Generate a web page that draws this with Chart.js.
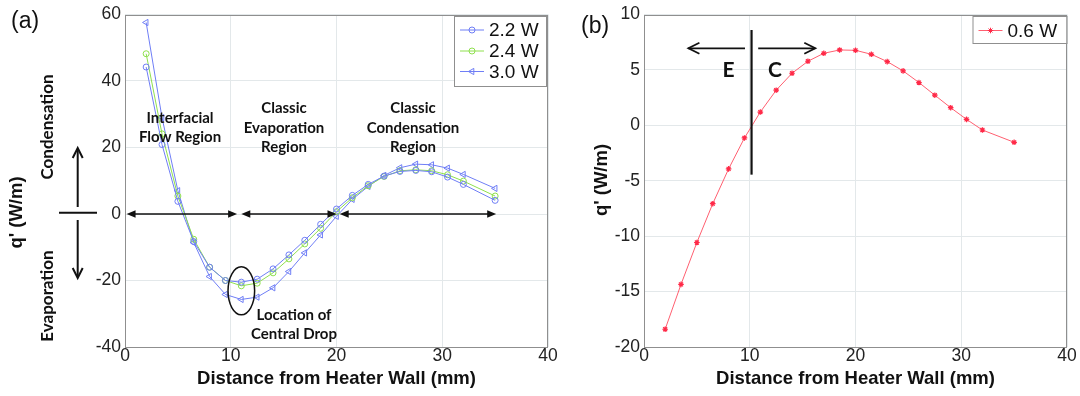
<!DOCTYPE html>
<html><head><meta charset="utf-8">
<script src="https://cdn.jsdelivr.net/npm/chart.js@4.4.1/dist/chart.umd.min.js"></script>
<style>
html,body{margin:0;padding:0;background:#fff;width:1080px;height:396px;overflow:hidden}
#wa{position:absolute;left:0;top:0;width:560px;height:396px}
#wb{position:absolute;left:560px;top:0;width:520px;height:396px}
canvas{display:block}
</style></head><body>
<div id="wa"><canvas id="ca" width="560" height="396" style="width:560px;height:396px"></canvas></div>
<div id="wb"><canvas id="cb" width="520" height="396" style="width:520px;height:396px"></canvas></div>
<script>
// ---------- data ----------
const distance = [2,3.5,5,6.5,8,9.5,11,12.5,14,15.5,17,18.5,20,21.5,23,24.5,26,27.5,29,30.5,32,35];
const q22W = [44.2,20.9,3.8,-8.3,-16.0,-20.0,-20.5,-19.6,-16.5,-12.3,-7.9,-3.1,1.5,5.6,8.9,11.4,12.8,13.1,12.7,11.1,8.9,4.1];
const q24W = [48.2,24.1,5.4,-7.6,-16.0,-20.0,-21.6,-20.8,-17.7,-13.5,-9.0,-4.3,0.7,4.9,8.5,11.3,13.0,13.3,13.0,11.8,9.9,5.4];
const q30W = [57.6,29.0,7.0,-8.6,-18.8,-24.2,-25.7,-25.0,-22.2,-17.3,-11.7,-6.3,-0.7,4.4,8.3,11.6,13.9,15.0,14.8,13.8,11.9,7.7];
const q06W = [-18.4,-14.35,-10.57,-7.07,-3.93,-1.14,1.2,3.17,4.7,5.78,6.5,6.8,6.77,6.41,5.75,4.91,3.86,2.72,1.59,0.54,-0.42,-1.53];
const xTicks = [0,10,20,30,40];
const yTicksA = [-40,-20,0,20,40,60];
const yTicksB = [-20,-15,-10,-5,0,5,10];
const labelsA = ['2.2 W','2.4 W','3.0 W'];
const labelsB = ['0.6 W'];
const xTitle = 'Distance from Heater Wall (mm)';
const yTitle = "q' (W/m)";

// ---------- styles ----------
const BLUE = '#6f7ef6', GREEN = '#8fe04e', RED = '#ff5f70', REDM = '#ff2a48';
const NUM = 'Liberation Sans, Arial, sans-serif';
const CAL = 'Lato, Open Sans, sans-serif';
const GRID = '#e3e8ea';

function pts(ys){ return distance.map((x,i)=>({x:x,y:ys[i]})); }

function scalesFor(ymin,ymax,yt,yWidth){
  const tickFont = {family:NUM,size:17.5};
  return {
    x:{type:'linear',min:0,max:40,
       afterBuildTicks:s=>{s.ticks=xTicks.map(v=>({value:v}));},
       ticks:{padding:-1,color:'#222',font:tickFont,maxRotation:0,autoSkip:false},
       grid:{color:GRID,drawTicks:false,lineWidth:1},border:{display:false},
       afterFit:s=>{s.height=49;}},
    y:{type:'linear',min:ymin,max:ymax,
       afterBuildTicks:s=>{s.ticks=yt.map(v=>({value:v}));},
       ticks:{padding:4,color:'#222',font:tickFont,autoSkip:false},
       grid:{color:GRID,drawTicks:false,lineWidth:1},border:{display:false},
       afterFit:s=>{s.width=yWidth;}}
  };
}

function arrowHeadFilled(ctx,x,y,ang,len,hw){
  ctx.beginPath();
  ctx.moveTo(x,y);
  ctx.lineTo(x-len*Math.cos(ang)+hw*Math.sin(ang), y-len*Math.sin(ang)-hw*Math.cos(ang));
  ctx.lineTo(x-len*Math.cos(ang)-hw*Math.sin(ang), y-len*Math.sin(ang)+hw*Math.cos(ang));
  ctx.closePath(); ctx.fill();
}
function arrowHeadOpen(ctx,x,y,ang,len,hw){
  ctx.beginPath();
  ctx.moveTo(x-len*Math.cos(ang)+hw*Math.sin(ang), y-len*Math.sin(ang)-hw*Math.cos(ang));
  ctx.lineTo(x,y);
  ctx.lineTo(x-len*Math.cos(ang)-hw*Math.sin(ang), y-len*Math.sin(ang)+hw*Math.cos(ang));
  ctx.stroke();
}
function line(ctx,x1,y1,x2,y2){ctx.beginPath();ctx.moveTo(x1,y1);ctx.lineTo(x2,y2);ctx.stroke();}
function rotText(ctx,t,x,y,font){
  ctx.save();ctx.translate(x,y);ctx.rotate(-Math.PI/2);ctx.font=font;
  ctx.textAlign='center';ctx.textBaseline='middle';ctx.fillText(t,0,0);ctx.restore();
}
function drawBox(chart){
  const a=chart.chartArea, ctx=chart.ctx;
  ctx.save();ctx.strokeStyle='#8f8f8f';ctx.lineWidth=1;
  ctx.strokeRect(Math.round(a.left)+0.5,Math.round(a.top)+0.5,Math.round(a.right-a.left)-1,Math.round(a.bottom-a.top)-1);
  ctx.restore();
}
function drawLegend(chart,bx,by,bw,bh,rows){
  const ctx=chart.ctx;
  ctx.save();
  ctx.fillStyle='#fff';ctx.fillRect(bx,by,bw,bh);
  ctx.strokeStyle='#8f8f8f';ctx.lineWidth=1;ctx.strokeRect(bx+0.5,by+0.5,bw,bh);
  chart.data.datasets.forEach((ds,i)=>{
    const y=rows[i];
    ctx.strokeStyle=ds.borderColor;ctx.lineWidth=1;
    line(ctx,bx+6,y,bx+30,y);
    ctx.strokeStyle=ds.pointBorderColor;ctx.fillStyle=ds.pointBackgroundColor;
    Chart.helpers.drawPoint(ctx,{pointStyle:ds.pointStyle,rotation:ds.pointRotation||0,radius:ds.pointRadius,borderWidth:ds.pointBorderWidth||1},bx+18,y);
    ctx.fillStyle='#111';ctx.font='19px '+NUM;ctx.textAlign='left';ctx.textBaseline='middle';
    ctx.fillText(ds.label,bx+35,y+1);
  });
  ctx.restore();
}

// ---------- panel (a) ----------
const annotA = {
  id:'annotA',
  afterDraw(chart){
    const ctx=chart.ctx, xs=chart.scales.x, ys=chart.scales.y;
    const X=v=>xs.getPixelForValue(v), Y=v=>ys.getPixelForValue(v);
    drawBox(chart);
    ctx.save();
    ctx.fillStyle='#111';ctx.strokeStyle='#111';
    // region arrows along zero
    ctx.lineWidth=1.6;
    [[0.15,10.6],[11.0,20.0],[20.3,35.1]].forEach(([a,b])=>{
      const y=Y(0);
      line(ctx,X(a)+3,y,X(b)-3,y);
      arrowHeadFilled(ctx,X(a),y,Math.PI,9,3.8);
      arrowHeadFilled(ctx,X(b),y,0,9,3.8);
    });
    // ellipse
    ctx.lineWidth=1.5;
    ctx.beginPath();ctx.ellipse(X(11),Y(-23.1),13.3,24,0,0,Math.PI*2);ctx.stroke();
    // region labels
    ctx.font='bold 15px '+CAL;ctx.textAlign='center';ctx.textBaseline='middle';
    ctx.fillText('Interfacial',180,118);ctx.fillText('Flow Region',180,137.5);
    ctx.fillText('Classic',284,108.5);ctx.fillText('Evaporation',284,128);ctx.fillText('Region',284,147);
    ctx.fillText('Classic',413,108.5);ctx.fillText('Condensation',413,128);ctx.fillText('Region',413,147);
    ctx.fillText('Location of',294,315);ctx.fillText('Central Drop',294,334);
    // x title
    ctx.font='bold 18.5px '+NUM;ctx.fillText(xTitle,(chart.chartArea.left+chart.chartArea.right)/2,379);
    // y title & side annotations
    rotText(ctx,yTitle,17,212.5,'bold 18.5px '+NUM);
    rotText(ctx,'Condensation',48,127,'bold 17px '+CAL);
    rotText(ctx,'Evaporation',48,296,'bold 17px '+CAL);
    ctx.lineWidth=2;
    line(ctx,59,212.7,97,212.7);
    line(ctx,77.7,207,77.7,149);arrowHeadOpen(ctx,77.7,148,-Math.PI/2,10,5);
    line(ctx,77.7,220,77.7,277);arrowHeadOpen(ctx,77.7,278,Math.PI/2,10,5);
    // panel tag
    ctx.font='23px '+NUM;ctx.textAlign='left';ctx.fillText('(a)',11,22);
    ctx.restore();
    drawLegend(chart,454,16,92,70,[30,51,71.5]);
  }
};

new Chart(document.getElementById('ca'),{
  type:'scatter',
  data:{datasets:[
    {label:labelsA[0],data:pts(q22W),showLine:true,tension:0,borderColor:BLUE,borderWidth:1,
     pointStyle:'circle',pointRadius:3,pointBorderColor:BLUE,pointBackgroundColor:'rgba(0,0,0,0)',pointBorderWidth:1},
    {label:labelsA[1],data:pts(q24W),showLine:true,tension:0,borderColor:GREEN,borderWidth:1,
     pointStyle:'circle',pointRadius:3,pointBorderColor:GREEN,pointBackgroundColor:'rgba(0,0,0,0)',pointBorderWidth:1},
    {label:labelsA[2],data:pts(q30W),showLine:true,tension:0,borderColor:BLUE,borderWidth:1,
     pointStyle:'triangle',pointRotation:-90,pointRadius:3.6,pointBorderColor:BLUE,pointBackgroundColor:'rgba(0,0,0,0)',pointBorderWidth:1}
  ]},
  options:{responsive:false,animation:false,devicePixelRatio:1,
    layout:{padding:{left:0,right:12,top:13,bottom:0}},
    plugins:{legend:{display:false},tooltip:{enabled:false}},
    scales:scalesFor(-40,60,yTicksA,125)},
  plugins:[annotA]
});

// ---------- panel (b) ----------
const annotB = {
  id:'annotB',
  afterDraw(chart){
    const ctx=chart.ctx, xs=chart.scales.x, ys=chart.scales.y;
    const X=v=>xs.getPixelForValue(v), Y=v=>ys.getPixelForValue(v);
    drawBox(chart);
    ctx.save();
    ctx.fillStyle='#111';ctx.strokeStyle='#111';
    ctx.lineWidth=2.2;
    line(ctx,X(10.17),Y(8.6),X(10.17),Y(-4.45));
    ctx.lineWidth=1.8;
    const ya=Y(6.95);
    line(ctx,X(9.55),ya,X(4.2),ya);arrowHeadOpen(ctx,X(4.2),ya,Math.PI,11,5.5);
    line(ctx,X(10.8),ya,X(16.2),ya);arrowHeadOpen(ctx,X(16.2),ya,0,11,5.5);
    ctx.font='bold 21px '+CAL;ctx.textAlign='center';ctx.textBaseline='middle';
    ctx.fillText('E',168.5,70.5);ctx.fillText('C',215,70.5);
    ctx.font='bold 18.5px '+NUM;
    ctx.fillText(xTitle,(chart.chartArea.left+chart.chartArea.right)/2,379);
    rotText(ctx,yTitle,41.5,180,'bold 18.5px '+NUM);
    ctx.font='23px '+NUM;ctx.textAlign='left';ctx.fillText('(b)',21,27);
    ctx.restore();
    drawLegend(chart,412.5,16,94,27,[30.5]);
  }
};

new Chart(document.getElementById('cb'),{
  type:'scatter',
  data:{datasets:[
    {label:labelsB[0],data:pts(q06W),showLine:true,tension:0,borderColor:RED,borderWidth:1,
     pointStyle:'star',pointRadius:2.8,pointBorderColor:REDM,pointBackgroundColor:REDM,pointBorderWidth:1.2}
  ]},
  options:{responsive:false,animation:false,devicePixelRatio:1,
    layout:{padding:{left:0,right:13,top:13,bottom:0}},
    plugins:{legend:{display:false},tooltip:{enabled:false}},
    scales:scalesFor(-20,10,yTicksB,84)},
  plugins:[annotB]
});
</script>
</body></html>
